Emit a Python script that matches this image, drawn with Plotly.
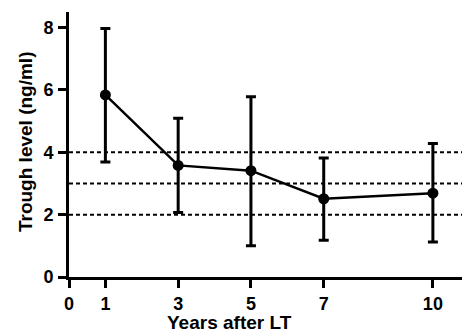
import plotly.graph_objects as go

years = [1, 3, 5, 7, 10]
trough_mean = [5.84, 3.58, 3.41, 2.51, 2.69]
err_upper = [7.97, 5.09, 5.78, 3.82, 4.28]
err_lower = [3.69, 2.07, 1.00, 1.18, 1.12]
ref_lines = [2, 3, 4]
x_ticks = [0, 1, 3, 5, 7, 10]
y_ticks = [0, 2, 4, 6, 8]

plus = [u - m for u, m in zip(err_upper, trough_mean)]
minus = [m - l for m, l in zip(trough_mean, err_lower)]

FONT = "Liberation Sans"

fig = go.Figure()
for h in ref_lines:
    fig.add_shape(type="line", xref="paper", yref="y", x0=0, x1=1, y0=h, y1=h,
                  line=dict(color="black", width=2, dash="4px,3px"), layer="below")

fig.add_trace(go.Scatter(
    x=years, y=trough_mean, mode="lines+markers",
    line=dict(color="black", width=2.5),
    marker=dict(color="black", size=11),
    error_y=dict(type="data", symmetric=False, array=plus, arrayminus=minus,
                 color="black", thickness=3, width=5),
    cliponaxis=False, showlegend=False,
))

fig.update_layout(
    width=462, height=333,
    margin=dict(l=69, r=0, t=12, b=56),
    plot_bgcolor="white", paper_bgcolor="white",
    font=dict(family=FONT, color="black", size=18, weight="bold"),
    xaxis=dict(range=[0, 10.8], tickvals=x_ticks, showline=True, linecolor="black",
               linewidth=3, ticks="outside", ticklen=8, tickwidth=3, tickcolor="black",
               showgrid=False, zeroline=False,
               tickfont=dict(family=FONT, size=18, weight="bold")),
    yaxis=dict(range=[0, 8.5], tickvals=y_ticks, showline=True, linecolor="black",
               linewidth=3, ticks="outside", ticklen=8, tickwidth=3, tickcolor="black",
               showgrid=False, zeroline=False, ticklabelstandoff=1,
               tickfont=dict(family=FONT, size=18, weight="bold")),
    annotations=[
        dict(text="Years after LT", xref="paper", yref="paper", x=0.408, y=-0.17,
             xanchor="center", yanchor="middle", showarrow=False,
             font=dict(family=FONT, size=19, weight="bold")),
        dict(text="Trough level (ng/ml)", xref="paper", yref="paper", x=-0.112, y=0.513,
             xanchor="center", yanchor="middle", showarrow=False, textangle=-90,
             font=dict(family=FONT, size=19, weight="bold")),
    ],
)

fig.write_html("out.html", config={"displayModeBar": False},
               post_script="document.body.style.margin='0';")
